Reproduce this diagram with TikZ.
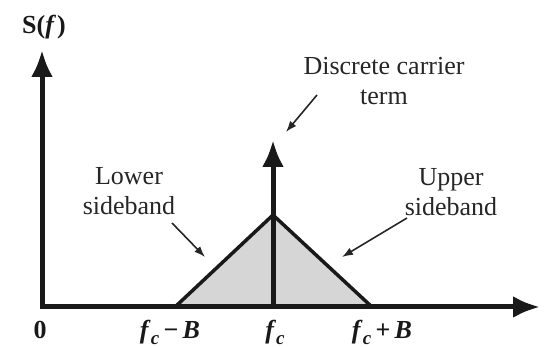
\documentclass[tikz,border=0pt]{standalone}
\usepackage{fontspec}
\setmainfont{Liberation Serif}
\usetikzlibrary{arrows.meta}
\newcommand{\fcsub}{\textit{f}\raisebox{-0.2em}{\fontsize{19}{20}\selectfont\textit{c}}}
\tikzset{bigtip/.tip={Latex[length=27pt,width=22pt]}}
\begin{document}
\begin{tikzpicture}[x=1pt,y=-1pt,
  lbl/.style={font=\fontsize{26}{30}\selectfont, align=center, text=black!85, inner sep=0pt},
  axlbl/.style={font=\fontsize{26}{30}\selectfont\bfseries, text=black!90, inner sep=0pt, anchor=base},
  axisline/.style={line width=5pt, black!90, line join=miter},
  pointer/.style={line width=1.6pt, black!85, -{Latex[length=11pt,width=8pt]}},
  band/.style={fill=black!16, draw=none},
  edge/.style={line width=3.5pt, black!90, line cap=round}]
\useasboundingbox (0,0) rectangle (544,347);
% points
\coordinate (O) at (42,307);
\coordinate (ytop) at (42,50);
\coordinate (xend) at (540,307);
\coordinate (lb) at (175,307);
\coordinate (apex) at (273,215);
\coordinate (rb) at (372,307);
\coordinate (fcbase) at (273,307);
\coordinate (fctop) at (273,140);
% sidebands
\fill[band] (lb) -- (apex) -- (rb) -- cycle;
\draw[edge] (lb) -- (apex) -- (rb);
% axes
\draw[axisline, bigtip-bigtip] (ytop) -- (O) -- (xend);
% carrier
\draw[axisline, -bigtip] (fcbase) -- (fctop);
% labels
\node[axlbl] (S) at (44,34) {S(\textit{f}\kern1pt)};
\node[axlbl] (zero) at (40,339) {0};
\node[axlbl] (fcmB) at (170,339) {\fcsub\,−\,\textit{B}};
\node[axlbl] (fc) at (275,339) {\fcsub};
\node[axlbl] (fcpB) at (382,339) {\fcsub\,+\,\textit{B}};
\node[lbl, anchor=north] (disc) at (384,57) {Discrete carrier\\term};
\node[lbl, anchor=north] (lower) at (129,167) {Lower\\sideband};
\node[lbl, anchor=north] (upper) at (451,168) {Upper\\sideband};
% pointers
\coordinate (d1) at (317,95);  \coordinate (d2) at (286,132);
\coordinate (l1) at (172,223); \coordinate (l2) at (205,257);
\coordinate (u1) at (407,218); \coordinate (u2) at (342,257);
\draw[pointer] (d1) -- (d2);
\draw[pointer] (l1) -- (l2);
\draw[pointer] (u1) -- (u2);
\end{tikzpicture}
\end{document}
